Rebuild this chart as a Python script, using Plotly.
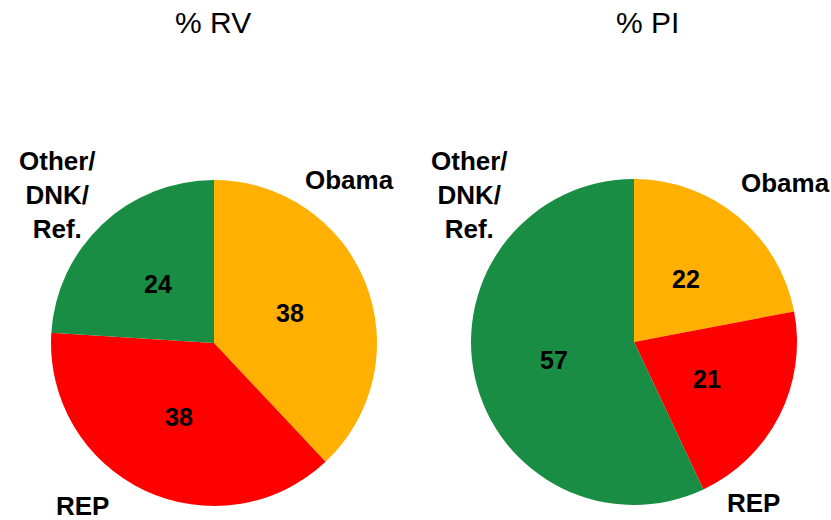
import numpy as np
import plotly.graph_objects as go

categories = ["Obama", "REP", "Other/<br>DNK/<br>Ref."]
rv_values = [38, 38, 24]
pi_values = [22, 21, 57]
titles = ["% RV", "% PI"]
colors = ["#FFB000", "#FF0000", "#188D43"]

W, H = 831, 520
FONT = "Arial, Liberation Sans, sans-serif"

def px(x):
    return x / W

def py(y):
    return 1 - y / H

r = 163
centers = [(214, 343), (634, 342)]

fig = go.Figure()
annotations = []
for vals, (cx, cy) in zip([rv_values, pi_values], centers):
    fig.add_trace(go.Pie(
        labels=categories,
        values=vals,
        sort=False,
        direction="clockwise",
        rotation=0,
        marker=dict(colors=colors, line=dict(width=0)),
        textinfo="none",
        domain=dict(x=[px(cx - r), px(cx + r)], y=[py(cy + r), py(cy - r)]),
        showlegend=False,
        hoverinfo="label+value",
    ))
    # value labels at half radius on each slice bisector (clockwise from 12 o'clock)
    v = np.array(vals, dtype=float)
    cum = np.cumsum(v) - v / 2
    ang = 2 * np.pi * cum / v.sum()
    for val, a in zip(vals, ang):
        lx = cx + 0.5 * r * np.sin(a)
        ly = cy - 0.5 * r * np.cos(a)
        annotations.append(dict(text="<b>%d</b>" % val, x=px(lx), y=py(ly),
                                xref="paper", yref="paper", xanchor="center",
                                yanchor="middle", showarrow=False,
                                font=dict(family=FONT, size=25, color="black")))

# titles
for t, x in zip(titles, [213, 647]):
    annotations.append(dict(text=t, x=px(x), y=py(23), xref="paper", yref="paper",
                            xanchor="center", yanchor="middle", showarrow=False,
                            font=dict(family=FONT, size=30, color="black")))
# outside category labels
label_pos = [
    [(349, 180), (82, 506), (57, 195)],
    [(785, 183), (753, 503), (469, 195)],
]
for pos in label_pos:
    for cat, (x, y) in zip(categories, pos):
        annotations.append(dict(text="<b>" + cat + "</b>", x=px(x), y=py(y),
                                xref="paper", yref="paper", xanchor="center",
                                yanchor="middle", showarrow=False,
                                font=dict(family=FONT, size=26, color="black")))

fig.update_layout(
    width=W, height=H,
    margin=dict(l=0, r=0, t=0, b=0),
    paper_bgcolor="white",
    plot_bgcolor="white",
    annotations=annotations,
)

fig.write_html("out.html", config={"displayModeBar": False},
               post_script="document.body.style.margin='0';document.body.style.overflow='hidden';")
